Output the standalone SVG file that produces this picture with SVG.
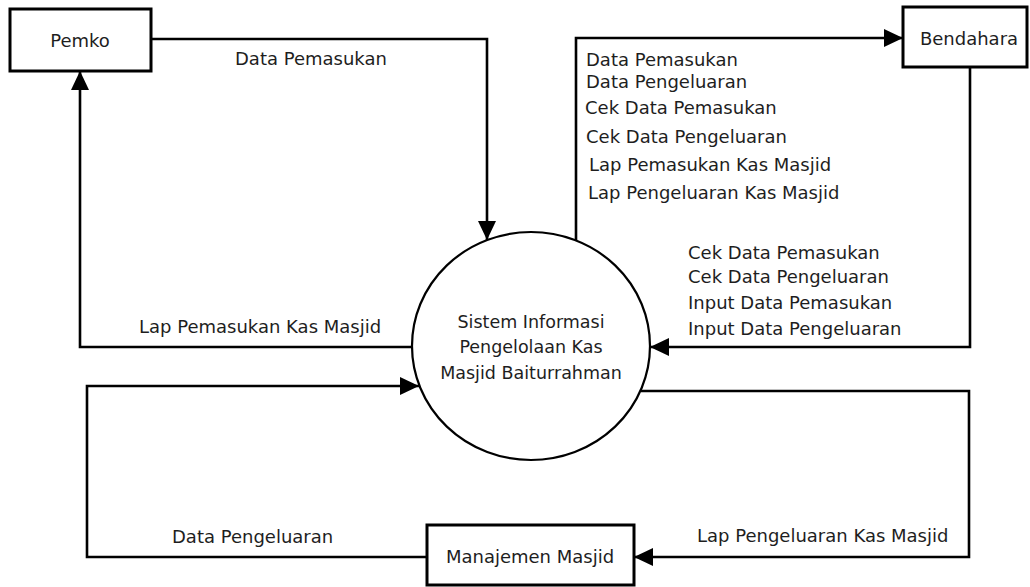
<svg xmlns="http://www.w3.org/2000/svg" width="1030" height="587" viewBox="0 0 1030 587">
<style>
.box{fill:#fff;stroke:#000;stroke-width:3}
.proc{fill:#fff;stroke:#000;stroke-width:2.2}
.flow{fill:none;stroke:#000;stroke-width:2.6;stroke-linejoin:miter}
.arr{marker-end:url(#ah)}
text{font-family:"DejaVu Sans","Liberation Sans",sans-serif;font-size:18px;fill:#1e1e1e}
.c{text-anchor:middle}
.pt{font-size:17.5px}
</style>
<defs>
<marker id="ah" markerUnits="userSpaceOnUse" markerWidth="19" markerHeight="18" refX="19" refY="9" orient="auto">
<path d="M0,0 L19,9 L0,18 z" fill="#000"/>
</marker>
</defs>
<rect width="1030" height="587" fill="#fff"/>
<g id="connectors">
<path class="flow arr" d="M151,39 H487 V240"/>
<path class="flow arr" d="M576,240 V38 H903"/>
<path class="flow arr" d="M970,67 V347 H650"/>
<path class="flow arr" d="M412,347 H80 V71"/>
<path class="flow arr" d="M427,557 H87 V386 H419"/>
<path class="flow arr" d="M641,391 H969 V557 H634"/>
<text x="235" y="65">Data Pemasukan</text>
<text x="586" y="66">Data Pemasukan</text>
<text x="586" y="88">Data Pengeluaran</text>
<text x="585" y="114">Cek Data Pemasukan</text>
<text x="586" y="143">Cek Data Pengeluaran</text>
<text x="589" y="171">Lap Pemasukan Kas Masjid</text>
<text x="588" y="199">Lap Pengeluaran Kas Masjid</text>
<text x="688" y="259">Cek Data Pemasukan</text>
<text x="688" y="283">Cek Data Pengeluaran</text>
<text x="688" y="309">Input Data Pemasukan</text>
<text x="688" y="335">Input Data Pengeluaran</text>
<text x="139" y="333">Lap Pemasukan Kas Masjid</text>
<text x="172" y="543">Data Pengeluaran</text>
<text x="697" y="542">Lap Pengeluaran Kas Masjid</text>
</g>
<g id="pemko">
<rect class="box" x="10" y="9" width="141" height="62"/>
<text class="c" x="80" y="47">Pemko</text>
</g>
<g id="bendahara">
<rect class="box" x="903" y="7" width="124" height="60"/>
<text class="c" x="969" y="45">Bendahara</text>
</g>
<g id="manajemen">
<rect class="box" x="427" y="525" width="207" height="60"/>
<text class="c" x="530" y="563">Manajemen Masjid</text>
</g>
<g id="sistem">
<ellipse class="proc" cx="531" cy="346" rx="119" ry="114"/>
<text class="c pt" x="531" y="328">Sistem Informasi</text>
<text class="c pt" x="531" y="353">Pengelolaan Kas</text>
<text class="c pt" x="531" y="379">Masjid Baiturrahman</text>
</g>
</svg>
